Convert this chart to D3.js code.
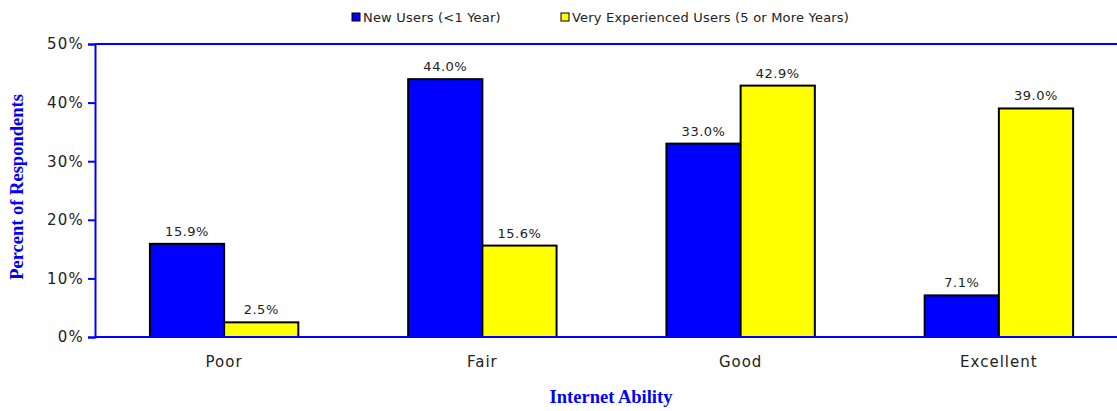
<!DOCTYPE html>
<html>
<head>
<meta charset="utf-8">
<script src="https://cdn.jsdelivr.net/npm/d3@7"></script>
<style>
  body { margin: 0; background: #fff; }
  text { font-family: "DejaVu Sans", Verdana, sans-serif; fill: #222; }
  .title { font-family: "Liberation Serif", "Times New Roman", serif; font-weight: bold; fill: #0000ff; font-size: 18.5px; }
</style>
</head>
<body>
<div id="chart"></div>
<script>
// data
var categories = ["Poor", "Fair", "Good", "Excellent"];
var seriesNames = ["New Users (<1 Year)", "Very Experienced Users (5 or More Years)"];
var newUsers = [15.9, 44.0, 33.0, 7.1];
var experiencedUsers = [2.5, 15.6, 42.9, 39.0];
var yTicks = [0, 10, 20, 30, 40, 50];

var colors = ["#0000ff", "#ffff00"];

var margin = { top: 44, right: -11, bottom: 74, left: 95 },
  width = 1117 - margin.left - margin.right,
  height = 411 - margin.top - margin.bottom;

var svg = d3
  .select("#chart")
  .append("svg")
  .attr("width", 1117)
  .attr("height", 411);

var g = svg
  .append("g")
  .attr("transform", "translate(" + margin.left + "," + margin.top + ")");

var x0 = d3.scaleBand().domain(categories).range([0, width]);
var x1 = d3
  .scaleBand()
  .domain([0, 1])
  .range([0, x0.bandwidth()])
  .paddingOuter(0.74)
  .paddingInner(0);
var y = d3.scaleLinear().domain([0, 50]).range([height, 0]);

var rows = categories.map((c, i) => ({
  cat: c,
  vals: [newUsers[i], experiencedUsers[i]],
}));

// y axis
var yAxis = g
  .append("g")
  .call(
    d3
      .axisLeft(y)
      .tickValues(yTicks)
      .tickSize(7)
      .tickFormat((d) => d + "%")
  );
yAxis.select(".domain").attr("stroke", "#0000ff").attr("stroke-width", 2);
yAxis.selectAll(".tick line").attr("stroke", "#0000ff").attr("stroke-width", 2);
yAxis
  .selectAll(".tick text")
  .attr("x", -11)
  .style("font-size", "15px")
  .style("letter-spacing", "1.2px")
  .style("font-family", "DejaVu Sans, sans-serif")
  .attr("fill", "#222");

// top border line
g.append("line")
  .attr("x1", 0)
  .attr("x2", width)
  .attr("y1", y(50))
  .attr("y2", y(50))
  .attr("stroke", "#0000ff")
  .attr("stroke-width", 2);

// bars
var groups = g
  .selectAll(".grp")
  .data(rows)
  .enter()
  .append("g")
  .attr("transform", (d) => "translate(" + x0(d.cat) + ",0)");

groups
  .selectAll("rect")
  .data((d) => d.vals)
  .enter()
  .append("rect")
  .attr("x", (d, i) => x1(i))
  .attr("y", (d) => y(d))
  .attr("width", x1.bandwidth())
  .attr("height", (d) => y(0) - y(d))
  .attr("fill", (d, i) => colors[i])
  .attr("stroke", "#000")
  .attr("stroke-width", 2);

groups
  .selectAll(".lbl")
  .data((d) => d.vals)
  .enter()
  .append("text")
  .attr("class", "lbl")
  .attr("x", (d, i) => x1(i) + x1.bandwidth() / 2)
  .attr("y", (d) => y(d) - 8)
  .attr("text-anchor", "middle")
  .style("font-size", "13px")
  .style("letter-spacing", "0.5px")
  .text((d) => d.toFixed(1) + "%");

// x axis (baseline)
g.append("line")
  .attr("x1", 0)
  .attr("x2", width)
  .attr("y1", y(0))
  .attr("y2", y(0))
  .attr("stroke", "#0000ff")
  .attr("stroke-width", 2);

g.selectAll(".cat")
  .data(categories)
  .enter()
  .append("text")
  .attr("class", "cat")
  .attr("x", (d) => x0(d) + x0.bandwidth() / 2)
  .attr("y", height + 30)
  .attr("text-anchor", "middle")
  .style("font-size", "15px")
  .style("letter-spacing", "1px")
  .text((d) => d);

// axis titles
svg
  .append("text")
  .attr("class", "title")
  .attr("x", 611)
  .attr("y", 403)
  .attr("text-anchor", "middle")
  .text("Internet Ability");

svg
  .append("text")
  .attr("class", "title")
  .attr("transform", "translate(23,187) rotate(-90)")
  .attr("text-anchor", "middle")
  .text("Percent of Respondents");

// legend
var legX = [352, 561];
var leg = svg
  .selectAll(".leg")
  .data(seriesNames)
  .enter()
  .append("g")
  .attr("transform", (d, i) => "translate(" + legX[i] + ",13)");

leg
  .append("rect")
  .attr("width", 8)
  .attr("height", 8)
  .attr("fill", (d, i) => colors[i])
  .attr("stroke", "#000")
  .attr("stroke-width", 1);

leg
  .append("text")
  .attr("x", 11)
  .attr("y", 9)
  .style("font-size", "13px")
  .style("letter-spacing", "0.2px")
  .text((d) => d);
</script>
</body>
</html>
